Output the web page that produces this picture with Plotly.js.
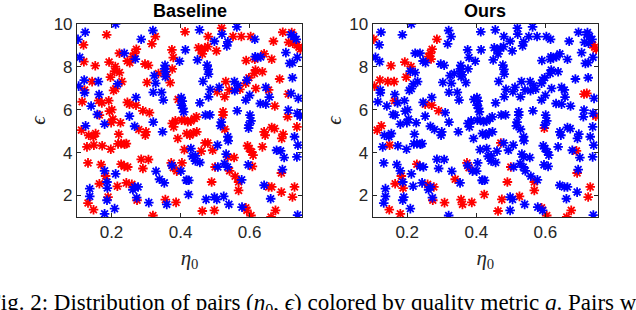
<!DOCTYPE html>
<html><head><meta charset="utf-8">
<script src="https://cdn.plot.ly/plotly-3.0.1.min.js"></script>
<style>html,body{margin:0;padding:0;background:#fff}#c{width:636px;height:310px}</style>
</head><body><div id="c"></div>
<script>
// eta0 (x), epsilon (y), and quality class (1 = red / low q, 0 = blue) for Baseline and Ours
const eta0 = [0.212,0.103,0.124,0.186,0.119,0.320,0.327,0.286,0.317,0.413,0.455,0.480,0.519,0.520,0.498,0.563,0.552,0.576,0.603,0.615,0.669,0.696,0.722,0.720,0.728,0.735,0.713,0.725,0.737,0.743,0.747,0.534,
0.108,0.120,0.153,0.193,0.211,0.223,0.237,0.246,0.253,0.262,0.267,0.272,0.269,0.297,0.307,0.324,0.355,0.354,0.375,0.414,0.379,0.397,0.452,0.460,0.470,0.479,0.504,0.463,0.449,0.477,0.480,0.481,0.537,0.590,0.615,0.616,0.623,0.632,0.642,0.664,0.705,0.716,0.724,0.738,
0.144,0.121,0.162,0.209,0.223,0.197,0.218,0.230,0.206,0.212,0.105,0.122,0.122,0.164,0.303,0.328,0.336,0.356,0.359,0.376,0.370,0.356,0.465,0.531,0.556,0.566,0.589,0.592,0.598,0.617,0.614,0.647,0.655,0.687,0.724,0.637,
0.115,0.141,0.172,0.163,0.192,0.194,0.201,0.246,0.252,0.271,0.271,0.291,0.310,0.321,0.345,0.350,0.393,0.402,0.405,0.402,0.407,0.456,0.481,0.486,0.506,0.512,0.528,0.541,0.557,0.572,0.589,0.600,0.618,0.631,0.647,0.657,0.673,0.712,0.720,0.741,0.738,0.746,0.712,0.710,0.523,0.523,0.564,0.601,0.604,0.598,0.597,
0.113,0.125,0.134,0.147,0.154,0.159,0.165,0.180,0.199,0.204,0.221,0.226,0.252,0.267,0.279,0.321,0.348,0.376,0.380,0.385,0.409,0.403,0.412,0.421,0.430,0.440,0.446,0.418,0.427,0.437,0.447,0.472,0.485,
0.129,0.149,0.173,0.198,0.219,0.228,0.238,0.243,0.300,0.298,0.392,0.411,0.430,0.443,0.456,0.471,0.479,0.493,0.507,0.516,0.518,0.528,0.537,0.538,0.594,0.599,0.606,0.610,0.642,0.645,0.637,0.678,0.693,0.697,0.730,0.740,0.664,0.672,0.737,0.690,
0.132,0.170,0.228,0.237,0.247,0.212,0.243,0.259,0.286,0.307,0.291,0.329,0.339,0.353,0.375,0.373,0.379,0.389,0.401,0.404,0.418,0.424,0.434,0.443,0.460,0.490,0.500,0.508,0.527,0.532,0.537,0.536,0.542,0.555,0.558,0.568,0.568,0.577,0.596,0.608,0.695,0.692,0.700,0.737,
0.137,0.137,0.132,0.148,0.165,0.180,0.183,0.187,0.188,0.190,0.187,0.180,0.209,0.217,0.262,0.267,0.277,0.273,0.274,0.308,0.320,0.356,0.360,0.387,0.417,0.423,0.463,0.474,0.498,0.498,0.505,0.525,0.540,0.578,0.589,0.592,0.604,0.642,0.655,0.664,0.661,0.662,0.675,0.692,0.724,0.730,0.739];
const eps = [10.0,9.28,9.61,9.49,9.02,9.69,9.41,9.28,9.07,9.63,9.72,9.41,9.80,9.52,9.19,9.86,9.41,9.41,9.41,9.28,9.19,9.61,9.60,9.50,9.41,9.28,9.14,9.10,9.02,8.91,8.82,8.97,
8.44,8.24,8.05,8.22,8.01,8.63,8.63,8.27,8.19,8.47,8.63,8.82,8.36,8.13,8.07,7.59,8.07,7.90,8.79,8.79,8.43,8.26,8.89,8.79,8.86,8.94,8.74,8.60,8.32,8.08,7.88,7.66,9.16,8.29,8.35,8.47,8.43,8.46,8.60,8.35,8.66,8.16,8.19,8.44,
7.31,7.38,7.31,7.80,7.73,7.52,7.20,7.31,6.90,6.98,7.10,6.92,6.79,6.71,7.27,7.23,7.69,7.77,7.62,7.90,7.26,7.54,7.32,7.31,7.31,7.13,7.23,7.38,7.49,7.85,7.69,7.04,6.92,7.43,7.49,7.77,
6.37,6.17,6.32,6.42,6.42,5.93,6.00,6.34,6.26,6.57,6.21,5.95,5.86,6.81,6.81,6.45,6.48,6.57,6.40,6.21,6.06,6.32,6.60,6.95,6.84,7.04,6.60,6.92,6.88,6.95,6.45,6.67,6.99,6.29,6.26,6.59,6.17,6.73,6.76,6.53,5.83,5.70,5.98,5.67,5.90,5.75,5.95,5.75,5.48,5.28,5.14,
5.05,5.25,4.81,4.74,4.89,5.78,5.75,5.33,5.40,5.56,4.86,5.39,5.70,5.23,5.08,5.42,4.97,5.36,5.20,5.48,5.90,5.51,5.51,5.44,5.47,5.59,5.67,4.89,4.81,4.92,4.97,5.75,5.76,
4.27,4.35,4.32,4.16,4.41,4.42,4.39,4.42,4.97,4.81,4.66,4.14,4.19,3.85,3.54,4.45,4.45,4.11,4.35,5.25,5.42,5.09,4.74,4.55,4.32,4.19,4.03,3.88,4.97,4.81,4.27,4.11,4.66,4.86,4.74,4.35,5.17,5.12,5.20,4.08,
3.52,3.44,3.46,3.36,3.33,3.01,2.59,2.52,3.69,3.68,3.26,3.13,2.76,2.59,3.40,3.52,3.30,3.14,3.14,3.52,2.71,2.71,3.83,3.61,4.07,2.63,3.33,3.33,3.49,3.93,3.80,3.33,3.15,3.77,2.90,2.63,2.24,2.73,3.43,3.36,3.21,3.05,3.77,3.80,
2.32,1.96,1.65,1.34,2.55,3.15,2.91,2.63,2.35,1.93,1.78,1.15,1.39,2.43,2.27,2.40,2.40,1.90,1.78,1.67,1.07,1.81,1.59,1.68,2.71,2.05,1.28,1.82,1.31,1.93,1.82,1.96,1.59,1.46,1.43,1.31,1.07,2.48,2.40,2.40,1.85,1.00,1.31,2.16,1.93,2.40,1.09];
const baseRed = [0,0,0,1,1,0,1,0,1,1,0,1,1,0,0,0,1,1,1,0,1,1,1,0,0,0,1,1,1,1,1,0,
0,1,1,1,1,1,0,1,1,1,1,1,0,1,1,0,0,0,1,0,1,0,1,1,1,1,1,1,0,0,0,0,0,1,1,0,0,0,1,1,0,0,0,0,
1,0,0,1,1,1,0,1,1,1,0,1,0,0,1,0,1,0,1,1,1,0,0,1,0,0,1,0,1,1,1,0,1,1,0,1,
1,0,1,1,1,1,1,1,1,0,1,1,1,0,0,0,1,0,0,0,0,0,0,0,1,0,1,1,0,1,0,0,1,0,0,0,1,1,0,0,0,0,0,1,1,1,0,0,0,0,0,
1,0,1,1,1,0,1,0,1,1,1,1,0,0,1,0,0,1,1,1,0,1,1,1,1,1,1,1,1,1,1,0,0,
1,1,1,1,1,1,1,1,1,1,1,1,0,0,0,1,1,1,0,0,0,1,0,0,1,1,1,1,1,1,1,0,1,1,0,0,1,1,1,0,
1,1,1,1,1,0,1,1,1,1,1,0,0,0,0,1,1,1,0,1,0,0,0,0,1,1,1,0,0,0,1,0,1,1,1,1,1,0,0,1,0,1,0,0,
0,0,1,1,1,0,1,0,0,1,0,0,0,1,0,0,0,0,1,0,1,1,0,1,0,0,1,0,1,0,0,0,0,0,1,1,1,0,1,1,0,1,1,1,1,1,0];
const oursRed = [0,1,0,0,0,0,0,1,0,0,0,0,0,0,0,0,0,0,0,0,0,0,0,0,0,0,0,0,1,1,1,0,
0,0,1,1,1,0,0,0,0,1,1,1,1,0,0,0,0,0,0,0,0,0,0,0,0,0,0,0,0,0,0,0,0,0,0,0,0,0,0,0,0,0,0,0,
1,1,1,0,0,1,0,0,0,0,1,0,0,0,0,0,0,0,0,0,0,0,0,0,0,0,0,0,0,0,0,0,0,0,0,0,
0,0,0,1,0,0,0,0,1,0,1,1,0,0,0,0,0,0,0,0,0,0,0,0,0,0,0,0,0,0,0,0,0,0,0,0,0,1,1,0,0,1,0,0,0,0,0,0,0,0,1,
1,1,0,0,0,0,0,0,0,0,0,0,0,0,0,0,0,0,0,0,0,0,0,0,0,0,0,0,0,0,0,0,0,
0,1,0,0,0,0,0,0,0,0,0,0,0,0,0,1,0,0,0,0,0,0,0,0,0,0,0,0,0,0,0,0,0,0,0,0,0,0,0,1,
0,0,1,0,0,0,0,1,0,0,0,0,1,0,0,1,1,0,0,0,0,0,0,0,0,1,1,0,0,0,0,0,0,0,0,1,1,0,0,0,0,1,0,0,
0,0,0,1,1,0,1,0,1,0,0,1,0,0,0,0,1,0,1,1,0,1,1,1,0,1,1,1,0,0,0,1,0,0,1,0,1,0,0,0,0,1,1,0,1,1,0];

const xTicks = [0.2, 0.4, 0.6];
const yTicks = [2, 4, 6, 8, 10];
const panelTitles = ['Baseline', 'Ours'];

function pick(arr, cls, want) { return arr.filter((_, i) => cls[i] === want); }
const RED = '#ff0000', BLUE = '#0000ff';
const mk = c => ({symbol: 'asterisk-open', size: 8, color: c, line: {color: c, width: 1.8}});
const traces = [];
[[baseRed, 'x', 'y'], [oursRed, 'x2', 'y2']].forEach(([cls, xa, ya]) => {
  traces.push({type: 'scatter', mode: 'markers', x: pick(eta0, cls, 1), y: pick(eps, cls, 1), xaxis: xa, yaxis: ya, marker: mk(RED), hoverinfo: 'skip'});
  traces.push({type: 'scatter', mode: 'markers', x: pick(eta0, cls, 0), y: pick(eps, cls, 0), xaxis: xa, yaxis: ya, marker: mk(BLUE), hoverinfo: 'skip'});
});

const tickFont = {family: 'Liberation Sans, Arial, sans-serif', size: 17, color: '#262626'};
const lblFont = {family: 'Liberation Serif, Times New Roman, serif', size: 21, color: '#262626'};
function xax(dom) {
  return {domain: dom, range: [0.1, 0.752], tickvals: xTicks, ticktext: xTicks.map(v => v.toFixed(1)),
    ticks: 'inside', ticklen: 4, tickcolor: '#262626', showline: true, linecolor: '#262626', linewidth: 1, mirror: 'ticks',
    showgrid: false, zeroline: false, tickfont: tickFont,
    title: {text: '<i>η</i><sub>0</sub>', font: lblFont, standoff: 8}};
}
function yax(anchor) {
  return {domain: [0.30, 0.923], range: [1, 10], tickvals: yTicks, anchor: anchor,
    ticks: 'inside', ticklen: 4, tickcolor: '#262626', showline: true, linecolor: '#262626', linewidth: 1, mirror: 'ticks',
    showgrid: false, zeroline: false, tickfont: tickFont,
    title: {text: '<i>ϵ</i>', font: lblFont, standoff: 2}};
}
const layout = {
  width: 636, height: 310, margin: {l: 0, r: 0, t: 0, b: 0}, showlegend: false,
  paper_bgcolor: '#fff', plot_bgcolor: '#fff',
  xaxis: Object.assign(xax([0.121, 0.475]), {anchor: 'y'}),
  yaxis: yax('x'),
  xaxis2: Object.assign(xax([0.586, 0.940]), {anchor: 'y2'}),
  yaxis2: yax('x2'),
  annotations: [
    {text: '<b>' + panelTitles[0] + '</b>', xref: 'paper', yref: 'paper', x: 0.298, y: 0.925, xanchor: 'center', yanchor: 'bottom', showarrow: false, font: {family: 'Liberation Sans, Arial, sans-serif', size: 18, color: '#000'}},
    {text: '<b>' + panelTitles[1] + '</b>', xref: 'paper', yref: 'paper', x: 0.763, y: 0.925, xanchor: 'center', yanchor: 'bottom', showarrow: false, font: {family: 'Liberation Sans, Arial, sans-serif', size: 18, color: '#000'}},
    {text: 'Fig. 2: Distribution of pairs (<i>η</i><sub>0</sub>, <i>ϵ</i>) colored by quality metric <i>q</i>. Pairs with', xref: 'paper', yref: 'paper', x: -0.022, y: 0.071, xanchor: 'left', yanchor: 'top', showarrow: false, font: {family: 'Liberation Serif, Times New Roman, serif', size: 23, color: '#000'}}
  ]
};
Plotly.newPlot('c', traces, layout, {staticPlot: true, displayModeBar: false});
</script></body></html>
